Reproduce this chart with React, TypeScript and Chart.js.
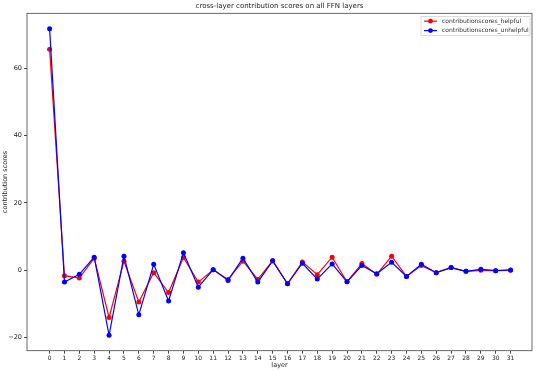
import React, { useEffect, useRef } from 'react';
import { Chart, registerables } from 'chart.js';

Chart.register(...registerables);

const layers = [0, 1, 2, 3, 4, 5, 6, 7, 8, 9, 10, 11, 12, 13, 14, 15, 16, 17, 18, 19, 20, 21, 22, 23, 24, 25, 26, 27, 28, 29, 30, 31];
const helpful = [65.6, -1.6, -2.3, 3.6, -14.0, 2.7, -9.4, -0.7, -6.6, 3.8, -3.5, 0.2, -2.7, 2.7, -2.7, 2.8, -4.0, 2.5, -1.3, 3.9, -3.4, 2.0, -1.2, 4.2, -1.8, 1.4, -0.7, 0.8, -0.3, 0.0, -0.1, 0.0];
const unhelpful = [71.7, -3.5, -1.2, 3.9, -19.3, 4.2, -13.2, 1.8, -9.1, 5.2, -5.0, 0.2, -3.0, 3.6, -3.5, 2.8, -4.0, 2.1, -2.6, 1.9, -3.4, 1.4, -1.0, 2.4, -1.8, 1.8, -0.7, 0.8, -0.3, 0.3, -0.1, 0.1];
const yTicks = [-20, 0, 20, 40, 60];
const seriesNames = ['contributionscores_helpful', 'contributionscores_unhelpful'];
const seriesColors = ['#ff0000', '#0000ff'];
const titleText = 'cross-layer contribution scores on all FFN layers';
const xTitle = 'layer';
const yTitle = 'contribution scores';

const FONT = '"DejaVu Sans", sans-serif';

const decorPlugin = {
  id: 'decor',
  afterDraw(chart: any) {
    const { ctx, chartArea: a } = chart;
    ctx.save();
    // spines
    ctx.strokeStyle = '#444';
    ctx.lineWidth = 0.8;
    ctx.strokeRect(a.left, a.top, a.right - a.left, a.bottom - a.top);
    // title
    ctx.fillStyle = '#222';
    ctx.textAlign = 'center';
    ctx.textBaseline = 'middle';
    ctx.font = `7px ${FONT}`;
    const cx = (a.left + a.right) / 2;
    ctx.fillText(titleText, cx, 6);
    // axis titles
    ctx.font = `6.5px ${FONT}`;
    ctx.fillText(xTitle, cx, 365.5);
    ctx.save();
    ctx.translate(5.5, (a.top + a.bottom) / 2);
    ctx.rotate(-Math.PI / 2);
    ctx.fillText(yTitle, 0, 0);
    ctx.restore();
    // legend
    const bx = a.right - 111;
    const by = a.top + 3.2;
    const bw = 109;
    const bh = 19;
    ctx.fillStyle = 'rgba(255,255,255,0.85)';
    ctx.strokeStyle = '#d0d0d0';
    ctx.lineWidth = 0.8;
    ctx.beginPath();
    ctx.rect(bx, by, bw, bh);
    ctx.fill();
    ctx.stroke();
    ctx.font = `6px ${FONT}`;
    ctx.textAlign = 'left';
    seriesNames.forEach((name, i) => {
      const y = by + 4.7 + i * 9.4;
      ctx.strokeStyle = seriesColors[i];
      ctx.lineWidth = 1.2;
      ctx.beginPath();
      ctx.moveTo(bx + 3, y);
      ctx.lineTo(bx + 16, y);
      ctx.stroke();
      ctx.fillStyle = seriesColors[i];
      ctx.beginPath();
      ctx.arc(bx + 9.5, y, 2.4, 0, Math.PI * 2);
      ctx.fill();
      ctx.fillStyle = '#333';
      ctx.fillText(name, bx + 21, y);
    });
    ctx.restore();
  },
};

export default function App() {
  const ref = useRef<HTMLCanvasElement>(null);
  useEffect(() => {
    document.body.style.margin = '0';
    const canvas = ref.current;
    if (!canvas) return;
    const chart = new Chart(canvas, {
      type: 'line',
      data: {
        datasets: [
          {
            label: seriesNames[0],
            data: layers.map((l, i) => ({ x: l, y: helpful[i] })),
            borderColor: seriesColors[0],
            backgroundColor: seriesColors[0],
            borderWidth: 1.2,
            pointRadius: 2.5,
            pointBorderWidth: 0,
            pointBackgroundColor: seriesColors[0],
            order: 1,
          },
          {
            label: seriesNames[1],
            data: layers.map((l, i) => ({ x: l, y: unhelpful[i] })),
            borderColor: seriesColors[1],
            backgroundColor: seriesColors[1],
            borderWidth: 1.2,
            pointRadius: 2.5,
            pointBorderWidth: 0,
            pointBackgroundColor: seriesColors[1],
            order: 0,
          },
        ],
      },
      options: {
        animation: false,
        responsive: false,
        devicePixelRatio: 1,
        layout: { padding: { left: 0, top: 13.3, right: 8, bottom: 0 } },
        plugins: { legend: { display: false }, title: { display: false }, tooltip: { enabled: false } },
        scales: {
          x: {
            type: 'linear',
            min: -1.52,
            max: 32.44,
            afterBuildTicks: (s: any) => {
              s.ticks = layers.map((v) => ({ value: v }));
            },
            afterFit: (s: any) => {
              s.height = 20.3;
            },
            ticks: {
              autoSkip: false,
              maxRotation: 0,
              minRotation: 0,
              padding: 1,
              color: '#222',
              font: { family: FONT, size: 6 },
              callback: (v: any) => String(v),
            },
            grid: { drawOnChartArea: false, drawTicks: true, tickLength: 3, color: '#444' },
            border: { display: false },
          },
          y: {
            type: 'linear',
            min: -23.85,
            max: 76.25,
            afterBuildTicks: (s: any) => {
              s.ticks = yTicks.map((v) => ({ value: v }));
            },
            afterFit: (s: any) => {
              s.width = 27;
            },
            ticks: {
              padding: 2,
              color: '#222',
              font: { family: FONT, size: 6.5 },
              callback: (v: any) => (v < 0 ? '\u2212' + Math.abs(v) : String(v)),
            },
            grid: { drawOnChartArea: false, drawTicks: true, tickLength: 3, color: '#444' },
            border: { display: false },
          },
        },
      },
      plugins: [decorPlugin],
    } as any);
    return () => chart.destroy();
  }, []);
  return (
    <div style={{ position: 'absolute', left: 0, top: 0, width: 540, height: 371, background: '#fff' }}>
      <canvas ref={ref} width={540} height={371} style={{ width: 540, height: 371 }} />
    </div>
  );
}
